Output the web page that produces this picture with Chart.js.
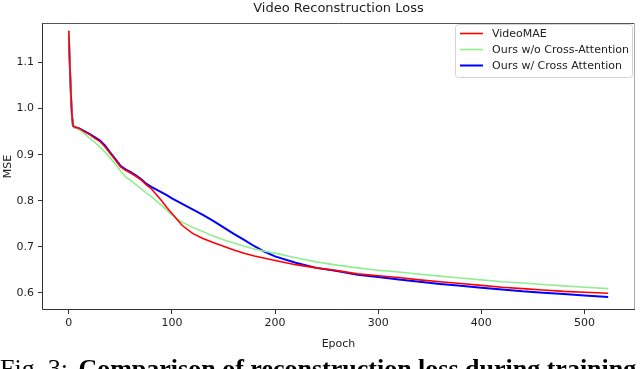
<!DOCTYPE html>
<html>
<head>
<meta charset="utf-8">
<script src="https://cdn.jsdelivr.net/npm/chart.js@4"></script>
<style>
  html, body { margin: 0; padding: 0; background: #fff; }
  #wrap { position: relative; width: 640px; height: 369px; overflow: hidden; }
  #c { position: absolute; left: 0; top: 0; }
  #caption { position: absolute; left: 0px; top: 356px; white-space: nowrap;
             font-family: "Liberation Serif", "Times New Roman", serif; font-size: 26px; line-height: 26px; color: #000; }
  #caption b { font-weight: bold; margin-left: 4px; }
</style>
</head>
<body>
<div id="wrap">
  <canvas id="c" width="640" height="369"></canvas>
  <div id="caption">Fig. 3: <b>Comparison of reconstruction loss during training</b></div>
</div>
<script>
// ---- data ----
const epochs = [0,1,2,3,4,5,10,15,20,25,30,35,40,45,50,55,60,65,70,75,80,85,90,95,100,110,120,130,140,150,160,170,180,190,200,220,240,260,280,300,320,340,360,380,400,420,440,460,480,500,523];
const videoMAE = [1.169,1.10,1.04,0.99,0.965,0.961,0.957,0.950,0.944,0.936,0.929,0.917,0.903,0.889,0.874,0.866,0.860,0.853,0.845,0.835,0.826,0.813,0.800,0.785,0.772,0.746,0.729,0.718,0.709,0.701,0.693,0.686,0.680,0.675,0.670,0.661,0.654,0.648,0.641,0.637,0.633,0.628,0.624,0.620,0.616,0.612,0.609,0.606,0.603,0.601,0.599];
const oursNoCA = [1.170,1.10,1.04,0.99,0.965,0.960,0.955,0.946,0.936,0.927,0.917,0.906,0.893,0.880,0.865,0.852,0.844,0.835,0.826,0.817,0.809,0.799,0.790,0.779,0.769,0.753,0.742,0.733,0.723,0.715,0.708,0.701,0.695,0.690,0.686,0.676,0.667,0.660,0.654,0.649,0.645,0.640,0.636,0.632,0.628,0.624,0.621,0.618,0.615,0.612,0.609];
const oursCA = [1.156,1.09,1.03,0.985,0.963,0.960,0.957,0.951,0.945,0.938,0.931,0.920,0.905,0.891,0.876,0.868,0.862,0.855,0.847,0.837,0.830,0.824,0.818,0.812,0.805,0.793,0.781,0.769,0.756,0.742,0.728,0.715,0.701,0.689,0.679,0.665,0.654,0.647,0.639,0.634,0.629,0.624,0.619,0.615,0.611,0.607,0.603,0.600,0.597,0.594,0.591];
const seriesNames = ["VideoMAE", "Ours w/o Cross-Attention", "Ours w/ Cross Attention"];
const xTicks = [0,100,200,300,400,500];
const yTicks = [0.6,0.7,0.8,0.9,1.0,1.1];

const colors = ["#ff0000", "#90ee90", "#0000ff"];
const widths = [1.6, 1.6, 2.0];
const FONT = "'DejaVu Sans', sans-serif";

const toPts = arr => arr.map((v, i) => ({x: epochs[i], y: v}));
const seriesVals = [videoMAE, oursNoCA, oursCA];

const frame = {
  id: 'frame',
  afterDatasetsDraw(chart) {
    const {ctx, chartArea: a} = chart;
    ctx.save();
    ctx.lineWidth = 1;
    ctx.strokeStyle = '#555';
    ctx.beginPath(); ctx.moveTo(a.left + 0.5, a.top + 0.5); ctx.lineTo(a.right - 0.5, a.top + 0.5); ctx.stroke();
    ctx.strokeStyle = '#aaa';
    ctx.beginPath(); ctx.moveTo(a.right - 0.5, a.top); ctx.lineTo(a.right - 0.5, a.bottom); ctx.stroke();
    ctx.strokeStyle = '#333';
    ctx.beginPath(); ctx.moveTo(a.left + 0.5, a.top); ctx.lineTo(a.left + 0.5, a.bottom - 0.5); ctx.lineTo(a.right, a.bottom - 0.5); ctx.stroke();

    // legend
    const bx = 455.5, by = 24.5, bw = 177, bh = 53, r = 3;
    ctx.fillStyle = 'rgba(255,255,255,0.85)';
    ctx.strokeStyle = '#d4d4d4';
    ctx.beginPath();
    ctx.moveTo(bx + r, by); ctx.lineTo(bx + bw - r, by); ctx.quadraticCurveTo(bx + bw, by, bx + bw, by + r);
    ctx.lineTo(bx + bw, by + bh - r); ctx.quadraticCurveTo(bx + bw, by + bh, bx + bw - r, by + bh);
    ctx.lineTo(bx + r, by + bh); ctx.quadraticCurveTo(bx, by + bh, bx, by + bh - r);
    ctx.lineTo(bx, by + r); ctx.quadraticCurveTo(bx, by, bx + r, by);
    ctx.closePath(); ctx.fill(); ctx.stroke();
    const rows = [33.5, 49.5, 65.5];
    ctx.font = "11px " + FONT;
    ctx.textBaseline = 'middle';
    ctx.textAlign = 'left';
    seriesNames.forEach((n, i) => {
      ctx.strokeStyle = colors[i];
      ctx.lineWidth = widths[i];
      ctx.beginPath(); ctx.moveTo(460, rows[i]); ctx.lineTo(483, rows[i]); ctx.stroke();
      ctx.fillStyle = '#222';
      ctx.fillText(n, 492, rows[i] + 0.5);
    });
    ctx.restore();
  }
};

new Chart(document.getElementById('c'), {
  type: 'line',
  data: {
    datasets: seriesNames.map((n, i) => ({
      label: n,
      data: toPts(seriesVals[i]),
      borderColor: colors[i],
      backgroundColor: colors[i],
      borderWidth: widths[i],
      pointRadius: 0,
      tension: 0,
      fill: false
    }))
  },
  options: {
    responsive: false,
    animation: false,
    layout: { padding: { left: 0, right: 5, top: 0, bottom: 14 } },
    plugins: {
      legend: { display: false },
      tooltip: { enabled: false },
      title: {
        display: true,
        text: 'Video Reconstruction Loss',
        fullSize: false,
        color: '#222',
        font: { family: FONT, size: 13, weight: 'normal', lineHeight: 1.2 },
        padding: { top: 1, bottom: 6.4 }
      }
    },
    scales: {
      x: {
        type: 'linear',
        min: -26, max: 549,
        afterBuildTicks: s => { s.ticks = xTicks.map(v => ({value: v})); },
        afterFit: s => { s.height = 45; },
        grid: { display: true, drawOnChartArea: false, drawTicks: true, tickLength: 4, color: '#333' },
        border: { display: false },
        ticks: { color: '#222', font: { family: FONT, size: 11 }, padding: 3, maxRotation: 0, autoSkip: false },
        title: { display: true, text: 'Epoch', color: '#222', font: { family: FONT, size: 11 }, padding: { top: 2, bottom: 4 } }
      },
      y: {
        type: 'linear',
        min: 0.5625, max: 1.186,
        afterBuildTicks: s => { s.ticks = yTicks.map(v => ({value: v})); },
        afterFit: s => { s.width = 42; },
        grid: { display: true, drawOnChartArea: false, drawTicks: true, tickLength: 4, color: '#333' },
        border: { display: false },
        ticks: { color: '#222', font: { family: FONT, size: 11 }, padding: 4, callback: v => v.toFixed(1) },
        title: { display: true, text: 'MSE', color: '#222', font: { family: FONT, size: 11 }, padding: { top: 2, bottom: 2 } }
      }
    }
  },
  plugins: [frame]
});
</script>
</body>
</html>
